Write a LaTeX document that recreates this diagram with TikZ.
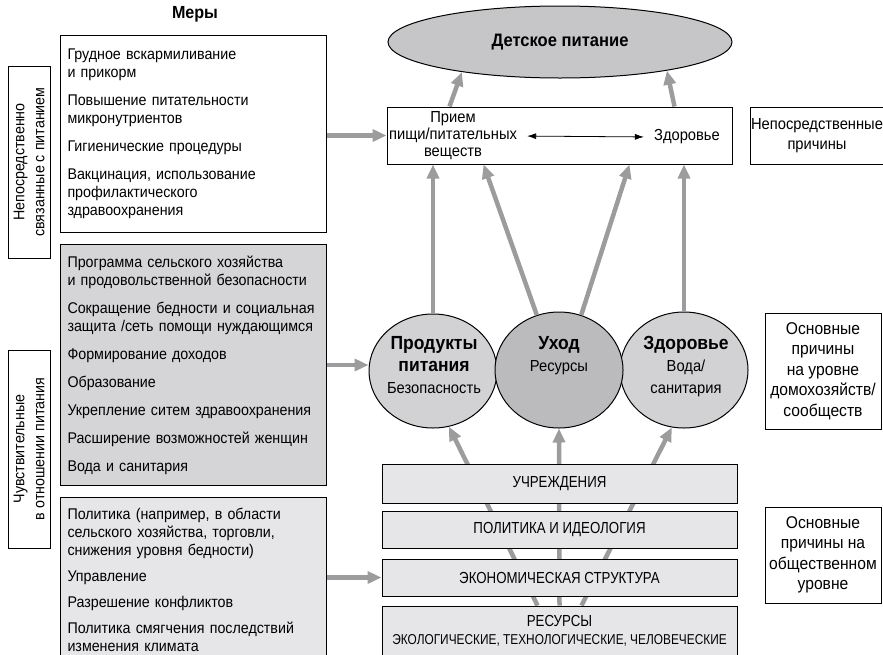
\documentclass[tikz,border=0pt]{standalone}
\usepackage{fontspec}
\setmainfont[FakeStretch=0.92]{Liberation Sans}
\newfontfamily\capsfont[FakeStretch=0.83]{Liberation Sans}
\usetikzlibrary{arrows.meta,shapes.geometric,calc,backgrounds}

\definecolor{arrowgray}{HTML}{9C9C9E}
\definecolor{ovaltop}{HTML}{C6C6C8}
\definecolor{ovalside}{HTML}{D2D2D4}
\definecolor{ovalmid}{HTML}{BBBBBD}
\definecolor{boxmid}{HTML}{D5D5D7}
\definecolor{boxlight}{HTML}{E6E6E8}

\tikzset{
  txt/.style={font=\fontsize{15.5}{18}\selectfont},
  framebox/.style={draw=black, line width=1pt, rectangle},
  listbox/.style={framebox, txt, align=left, text width=252pt, inner xsep=7pt, minimum width=265pt},
  sidelabel/.style={framebox, font=\fontsize{15.5}{20}\selectfont, align=center, rotate=90, minimum height=42pt, inner sep=2pt},
  causebox/.style={framebox, font=\fontsize{17}{20.5}\selectfont, align=center, inner sep=2pt},
  layerbox/.style={framebox, fill=boxlight, minimum width=355pt, font=\capsfont\fontsize{16}{18}\selectfont},
  oval/.style={ellipse, draw=black, line width=1pt, inner sep=0pt},
  ovaltext/.style={font=\fontsize{19}{22}\selectfont, align=center, anchor=north, inner sep=0pt},
  garrow/.style={draw=arrowgray, line width=4.5pt, -{Triangle[length=14pt,width=12pt]}},
  thinarrow/.style={line width=0.8pt, {Latex[length=9pt,width=6pt]}-{Latex[length=9pt,width=6pt]}},
}

\begin{document}
\begin{tikzpicture}[x=1pt, y=-1pt]
\useasboundingbox (0,0) rectangle (883,654);

% --- interventions column ---
\node[font=\bfseries\fontsize{17.5}{20}\selectfont] (mery) at (195,14) {Меры};

\node[listbox, minimum height=197pt] (direct) at (193.5,134)
  {Грудное вскармиливание\\и прикорм\\[10pt]Повышение питательности\\микронутриентов\\[10pt]Гигиенические процедуры\\[10pt]Вакцинация, использование\\профилактического\\здравоохранения};

\node[listbox, fill=boxmid, minimum height=241pt] (sensitive) at (193.5,365)
  {Программа сельского хозяйства\\и продовольственной безопасности\\[10pt]Сокращение бедности и социальная\\защита /сеть помощи нуждающимся\\[10pt]Формирование доходов\\[10pt]Образование\\[10pt]Укрепление ситем здравоохранения\\[10pt]Расширение возможностей женщин\\[10pt]Вода и санитария};

\node[listbox, fill=boxlight, minimum height=165pt] (policy) at (193.5,579.5)
  {Политика (например, в области\\сельского хозяйства, торговли,\\снижения уровня бедности)\\[8pt]Управление\\[8pt]Разрешение конфликтов\\[8pt]Политика смягчения последствий\\изменения климата};

\node[sidelabel, minimum width=192pt] (lbldirect) at (29,162) {Непосредственно\\связанные с питанием};
\node[sidelabel, minimum width=198pt] (lblsens) at (29,449) {Чувствительные\\в отношении питания};

% --- outcome and immediate causes ---
\node[oval, fill=ovaltop, minimum width=344pt, minimum height=72pt,
      font=\bfseries\fontsize{18}{20}\selectfont] (kid) at (560,42) {Детское питание};

\node[framebox, minimum width=345pt, minimum height=57pt] (intake) at (559.5,135.5) {};
\node[font=\fontsize{16}{17}\selectfont, align=center, inner sep=0pt] (intaketxt) at (453,136)
  {Прием\\пищи/питательных\\веществ};
\node[font=\fontsize{16}{17}\selectfont, inner sep=0pt] (healthtxt) at (687,137) {Здоровье};
\draw[thinarrow, shorten <=10pt, shorten >=10pt] (intaketxt.east) -- (healthtxt.west);

% --- underlying causes ---
\node[oval, fill=ovalside, minimum width=128pt, minimum height=114pt] (food) at (433,371) {};
\node[oval, fill=ovalside, minimum width=128pt, minimum height=116pt] (health) at (684,370) {};
\node[oval, fill=ovalmid, minimum width=128pt, minimum height=116pt] (care) at (559,370) {};

\node[ovaltext] (foodtxt) at (434,336)
  {\bfseries Продукты\\\bfseries питания\\\fontsize{16}{19}\selectfont Безопасность};
\node[ovaltext] (caretxt) at (559,336)
  {\bfseries Уход\\\fontsize{16}{19}\selectfont Ресурсы};
\node[ovaltext] (healthovtxt) at (686,336)
  {\bfseries Здоровье\\\fontsize{16}{19}\selectfont Вода/\\\fontsize{16}{19}\selectfont санитария};

% --- basic causes ---
\node[layerbox, minimum height=39pt] (inst) at (559.5,483.5) {УЧРЕЖДЕНИЯ};
\node[layerbox, minimum height=37pt] (ideol) at (559.5,529.5) {ПОЛИТИКА И ИДЕОЛОГИЯ};
\node[layerbox, minimum height=37pt] (econ) at (559.5,577.5) {ЭКОНОМИЧЕСКАЯ СТРУКТУРА};
\node[layerbox, minimum height=50pt, align=center] (res) at (559.5,631)
  {РЕСУРСЫ\\\capsfont\fontsize{14.3}{18}\selectfont ЭКОЛОГИЧЕСКИЕ, ТЕХНОЛОГИЧЕСКИЕ, ЧЕЛОВЕЧЕСКИЕ};

% --- level captions on the right ---
\node[framebox, minimum width=138pt, minimum height=57pt] (immediate) at (819,135.5) {};
\node[font=\fontsize{16}{20}\selectfont, align=center, inner sep=0pt] (immediatetxt) at (817,136)
  {Непосредственные\\причины};
\node[causebox, minimum width=116pt, minimum height=116pt] (underlying) at (823,371)
  {Основные\\причины\\на уровне\\домохозяйств/\\сообществ};
\node[causebox, minimum width=116pt, minimum height=96pt] (basic) at (823,555)
  {Основные\\причины на\\общественном\\уровне};

% --- connectors ---
\begin{pgfonlayer}{background}
  \draw[garrow] ($(res.north)+(-22,0)$) -- (food.286);
  \draw[garrow] (res.north) -- (care.south);
  \draw[garrow] ($(res.north)+(22,0)$) -- (health.258);
\end{pgfonlayer}

\draw[garrow] (food.north) -- (food.north |- intake.south);
\draw[garrow] (care.112) -- ($(intake.south)+(-76,0)$);
\draw[garrow] (care.68) -- ($(intake.south)+(70,0)$);
\draw[garrow] (health.north) -- (health.north |- intake.south);

\draw[garrow] ($(intake.north)+(-110,0)$) -- (kid.197);
\draw[garrow] ($(intake.north)+(115,0)$) -- (kid.345);

\draw[garrow] (direct.east |- intake.west) -- (intake.west);
\draw[garrow] (sensitive.east) -- (sensitive.east -| food.west);
\draw[garrow] (policy.east |- econ.west) -- (econ.west);
\end{tikzpicture}
\end{document}
